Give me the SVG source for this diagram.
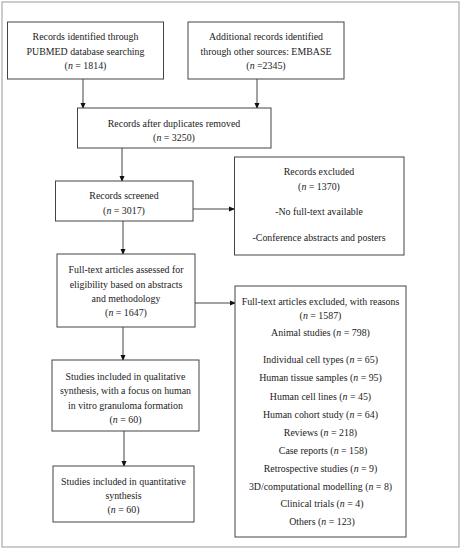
<svg xmlns="http://www.w3.org/2000/svg" width="462" height="550" viewBox="0 0 462 550">
<defs>
<marker id="ah" markerWidth="6" markerHeight="6" refX="5" refY="3" orient="auto" markerUnits="userSpaceOnUse">
<path d="M0,0.5 L6,3 L0,5.5 Z" fill="#111"/>
</marker>
</defs>
<style>
.box{fill:#fff;stroke:#444;stroke-width:1}
.t{font-family:"Liberation Serif","Times New Roman",serif;font-size:9.9px;fill:#222;text-anchor:middle}
.i{font-style:italic}
.c{stroke:#444;stroke-width:1;fill:none;marker-end:url(#ah)}
</style>
<rect x="2" y="2" width="457" height="545" fill="#fff" stroke="#aaa" stroke-width="1.2"/>
<g id="connectors">
<line class="c" x1="83" y1="79" x2="83" y2="108"/>
<line class="c" x1="257" y1="79" x2="257" y2="108"/>
<line class="c" x1="122" y1="148" x2="122" y2="181"/>
<line class="c" x1="193" y1="209" x2="234" y2="209"/>
<line class="c" x1="123" y1="221" x2="123" y2="254"/>
<line class="c" x1="195" y1="303" x2="235" y2="303"/>
<line class="c" x1="123" y1="327" x2="123" y2="360"/>
<line class="c" x1="124" y1="431" x2="124" y2="466"/>
</g>
<g id="n1">
<rect class="box" x="7.5" y="22" width="156" height="57"/>
<text class="t" x="85.5" y="40">Records identified through</text>
<text class="t" x="85.5" y="55">PUBMED database searching</text>
<text class="t" x="85.5" y="69">(<tspan class="i">n</tspan> = 1814)</text>
</g>
<g id="n2">
<rect class="box" x="188" y="22" width="156" height="57"/>
<text class="t" x="266" y="40">Additional records identified</text>
<text class="t" x="266" y="55">through other sources: EMBASE</text>
<text class="t" x="266" y="69">(<tspan class="i">n</tspan> =2345)</text>
</g>
<g id="n3">
<rect class="box" x="77.5" y="108" width="193.5" height="40"/>
<text class="t" x="174" y="127">Records after duplicates removed</text>
<text class="t" x="174" y="141">(<tspan class="i">n</tspan> = 3250)</text>
</g>
<g id="n4">
<rect class="box" x="55.5" y="181" width="137.5" height="40"/>
<text class="t" x="124" y="199">Records screened</text>
<text class="t" x="124" y="214">(<tspan class="i">n</tspan> = 3017)</text>
</g>
<g id="n5">
<rect class="box" x="234.5" y="157" width="169.5" height="98"/>
<text class="t" x="319" y="175">Records excluded</text>
<text class="t" x="319" y="190">(<tspan class="i">n</tspan> = 1370)</text>
<text class="t" x="319" y="215">-No full-text available</text>
<text class="t" x="319" y="241">-Conference abstracts and posters</text>
</g>
<g id="n6">
<rect class="box" x="57" y="254" width="138" height="73"/>
<text class="t" x="126" y="273">Full-text articles assessed for</text>
<text class="t" x="126" y="288">eligibility based on abstracts</text>
<text class="t" x="126" y="302">and methodology</text>
<text class="t" x="126" y="316">(<tspan class="i">n</tspan> = 1647)</text>
</g>
<g id="n7">
<rect class="box" x="235" y="286" width="171" height="251"/>
<text class="t" x="320.5" y="305">Full-text articles excluded, with reasons</text>
<text class="t" x="320.5" y="319">(<tspan class="i">n</tspan> = 1587)</text>
<text class="t" x="320.5" y="336">Animal studies (<tspan class="i">n</tspan> = 798)</text>
<text class="t" x="320.5" y="363">Individual cell types (<tspan class="i">n</tspan> = 65)</text>
<text class="t" x="320.5" y="381">Human tissue samples (<tspan class="i">n</tspan> = 95)</text>
<text class="t" x="320.5" y="400">Human cell lines (<tspan class="i">n</tspan> = 45)</text>
<text class="t" x="320.5" y="418">Human cohort study (<tspan class="i">n</tspan> = 64)</text>
<text class="t" x="320.5" y="436">Reviews (<tspan class="i">n</tspan> = 218)</text>
<text class="t" x="323" y="454">Case reports (<tspan class="i">n</tspan> = 158)</text>
<text class="t" x="320.5" y="472">Retrospective studies (<tspan class="i">n</tspan> = 9)</text>
<text class="t" x="320.5" y="490">3D/computational modelling (<tspan class="i">n</tspan> = 8)</text>
<text class="t" x="322" y="507">Clinical trials (<tspan class="i">n</tspan> = 4)</text>
<text class="t" x="322" y="525">Others (<tspan class="i">n</tspan> = 123)</text>
</g>
<g id="n8">
<rect class="box" x="52" y="360" width="147" height="71"/>
<text class="t" x="125.5" y="380">Studies included in qualitative</text>
<text class="t" x="125.5" y="394">synthesis, with a focus on human</text>
<text class="t" x="125.5" y="409">in vitro granuloma formation</text>
<text class="t" x="125.5" y="423">(<tspan class="i">n</tspan> = 60)</text>
</g>
<g id="n9">
<rect class="box" x="53" y="466" width="141" height="56"/>
<text class="t" x="123.5" y="485">Studies included in quantitative</text>
<text class="t" x="123.5" y="499">synthesis</text>
<text class="t" x="123.5" y="513">(<tspan class="i">n</tspan> = 60)</text>
</g>
</svg>
